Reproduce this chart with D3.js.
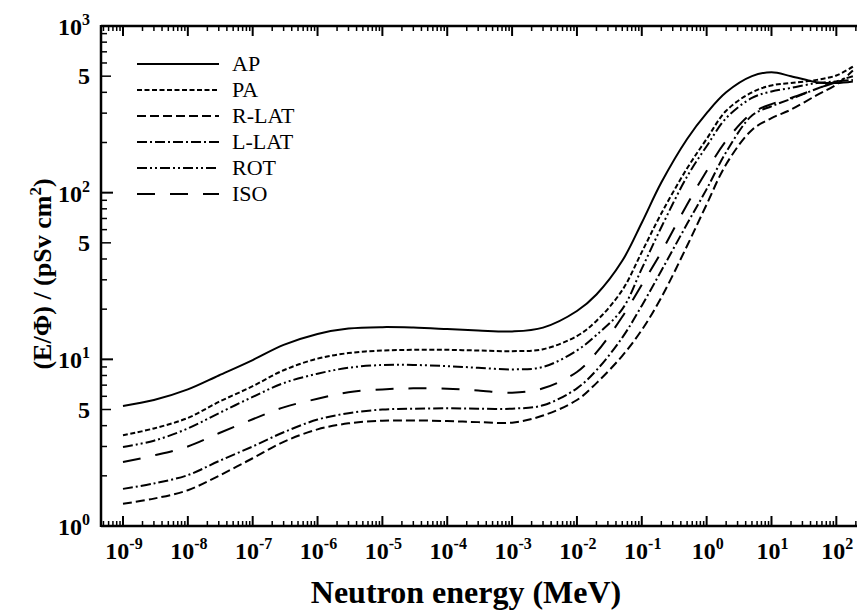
<!DOCTYPE html>
<html>
<head>
<meta charset="utf-8">
<script src="https://cdn.jsdelivr.net/npm/d3@7"></script>
<style>
  body { margin: 0; background: #fff; }
  svg { display: block; }
  text { font-family: "Liberation Serif", "Times New Roman", "DejaVu Serif", serif; }
</style>
</head>
<body>
<svg id="chart" width="857" height="610"></svg>
<script>
// neutron energy grid (MeV)
const energies = [1e-9, 3e-9, 1e-8, 3e-8, 1e-7, 3e-7, 1e-6, 3e-6, 1e-5, 3e-5, 1e-4, 3e-4,
  1e-3, 3e-3, 1e-2, 2e-2, 5e-2, 0.1, 0.2, 0.5, 1, 2, 5, 10, 20, 50, 100, 180];

// E/Phi, pSv cm2
const apValues   = [5.25, 5.7, 6.6, 8.0, 9.9, 12.2, 14.2, 15.3, 15.6, 15.5, 15.2, 14.9,
  14.7, 15.5, 19.5, 24.5, 39, 66, 115, 210, 300, 400, 500, 528, 500, 460, 455, 465];
const paValues   = [3.5, 3.85, 4.45, 5.55, 6.9, 8.6, 10.1, 10.9, 11.3, 11.4, 11.4, 11.3,
  11.2, 11.5, 13.8, 17, 26, 44, 75, 140, 210, 310, 400, 440, 455, 475, 505, 570];
const rlatValues = [1.36, 1.46, 1.64, 2.0, 2.55, 3.2, 3.8, 4.13, 4.28, 4.3, 4.26, 4.2,
  4.17, 4.6, 5.7, 7.2, 10.5, 15, 23.5, 48, 85, 148, 238, 280, 315, 385, 445, 540];
const llatValues = [1.67, 1.8, 2.02, 2.45, 3.0, 3.65, 4.35, 4.75, 5.0, 5.05, 5.08, 5.06,
  5.06, 5.3, 6.7, 8.6, 13.5, 21, 34, 65, 105, 175, 290, 330, 365, 420, 465, 500];
const rotValues  = [2.98, 3.25, 3.85, 4.75, 5.95, 7.2, 8.2, 8.9, 9.25, 9.25, 9.1, 8.9,
  8.7, 9.0, 11.3, 14, 20, 35, 62, 125, 190, 280, 370, 405, 425, 455, 465, 475];
const isoValues  = [2.42, 2.65, 3.0, 3.6, 4.37, 5.15, 5.8, 6.35, 6.6, 6.7, 6.66, 6.5,
  6.3, 6.7, 8.4, 11, 18, 28, 44, 85, 135, 205, 300, 340, 370, 420, 460, 480];

const seriesNames = ["AP", "PA", "R-LAT", "L-LAT", "ROT", "ISO"];
const seriesValues = [apValues, paValues, rlatValues, llatValues, rotValues, isoValues];

const xTickExps = [-9, -8, -7, -6, -5, -4, -3, -2, -1, 0, 1, 2];
const yTickExps = [0, 1, 2, 3];

const dashes = {
  "AP": null,
  "PA": "5,2.5",
  "R-LAT": "9,4",
  "L-LAT": "10,3,2,3",
  "ROT": "10,3,2,3,2,3",
  "ISO": "18,15"
};

const svg = d3.select("#chart");
const plotLeft = 101, plotTop = 26, plotBottom = 526;

const x = d3.scaleLog()
  .domain([Math.pow(10, -9.339), Math.pow(10, 2.36)])
  .range([plotLeft, plotLeft + 64.85 * (2.36 + 9.339)]);
const y = d3.scaleLog().domain([1, 1000]).range([plotBottom, plotTop]);

const xr = x.range()[1];

// minor ticks
const xMinor = [];
for (let e = -10; e <= 2; e++) {
  for (let k = 2; k <= 9; k++) {
    const v = k * Math.pow(10, e);
    if (v >= x.domain()[0] && v <= x.domain()[1]) xMinor.push(v);
  }
}
const yMinor = [];
for (let e = 0; e < 3; e++) {
  for (let k = 2; k <= 9; k++) yMinor.push({v: k * Math.pow(10, e), k: k});
}
const xMajor = xTickExps.map(e => Math.pow(10, e));
const yMajor = yTickExps.map(e => Math.pow(10, e));

const axes = svg.append("g").attr("stroke", "#000");

// bottom and top ticks (pointing inward)
[plotBottom, plotTop].forEach(function(y0) {
  const dir = y0 === plotBottom ? -1 : 1;
  axes.selectAll(null).data(xMinor).enter().append("line")
    .attr("x1", d => x(d)).attr("x2", d => x(d))
    .attr("y1", y0).attr("y2", y0 + dir * 5)
    .attr("stroke-width", 1.5);
  axes.selectAll(null).data(xMajor).enter().append("line")
    .attr("x1", d => x(d)).attr("x2", d => x(d))
    .attr("y1", y0).attr("y2", y0 + dir * 10)
    .attr("stroke-width", 2);
});

// left ticks
axes.selectAll(null).data(yMinor).enter().append("line")
  .attr("x1", plotLeft).attr("x2", d => plotLeft + (d.k === 5 ? 10 : 6))
  .attr("y1", d => y(d.v)).attr("y2", d => y(d.v))
  .attr("stroke-width", 1.5);
axes.selectAll(null).data(yMajor).enter().append("line")
  .attr("x1", plotLeft).attr("x2", plotLeft + 12)
  .attr("y1", d => y(d)).attr("y2", d => y(d))
  .attr("stroke-width", 2);

// frame lines
axes.append("line").attr("x1", plotLeft).attr("x2", xr).attr("y1", plotBottom).attr("y2", plotBottom).attr("stroke-width", 2.5);
axes.append("line").attr("x1", plotLeft).attr("x2", xr).attr("y1", plotTop).attr("y2", plotTop).attr("stroke-width", 2.5);
axes.append("line").attr("x1", plotLeft).attr("x2", plotLeft).attr("y1", plotTop - 1).attr("y2", plotBottom + 1).attr("stroke-width", 2.5);

// x tick labels
const xl = svg.append("g").attr("font-weight", "bold").attr("font-size", 24).attr("text-anchor", "middle");
xTickExps.forEach(function(e) {
  const t = xl.append("text").attr("x", x(Math.pow(10, e)) + 1).attr("y", 559);
  t.append("tspan").text("10");
  t.append("tspan").attr("font-size", 16).attr("dy", -10).text(e < 0 ? "-" + (-e) : String(e));
});

// y tick labels
const yl = svg.append("g").attr("font-weight", "bold").attr("font-size", 24).attr("text-anchor", "end");
yTickExps.forEach(function(e) {
  const t = yl.append("text").attr("x", 90).attr("y", y(Math.pow(10, e)) + 9);
  t.append("tspan").text("10");
  t.append("tspan").attr("font-size", 16).attr("dy", -10).text(String(e));
});
[5, 50, 500].forEach(function(v) {
  yl.append("text").attr("x", 90).attr("y", y(v) + 8).text("5");
});

// axis titles
svg.append("text")
  .attr("x", 466).attr("y", 603)
  .attr("text-anchor", "middle").attr("font-weight", "bold").attr("font-size", 32)
  .text("Neutron energy (MeV)");

const yt = svg.append("text")
  .attr("transform", "translate(51,274) rotate(-90)")
  .attr("text-anchor", "middle").attr("font-weight", "bold").attr("font-size", 26);
yt.append("tspan").text("(E/\u03A6) / (pSv cm");
yt.append("tspan").attr("font-size", 17).attr("dy", -10).text("2");
yt.append("tspan").attr("dy", 10).text(")");

// curves
const line = d3.line()
  .x(d => x(d[0]))
  .y(d => y(d[1]))
  .curve(d3.curveCatmullRom.alpha(0.5));

const curves = svg.append("g").attr("fill", "none").attr("stroke", "#000").attr("stroke-width", 2);
seriesNames.forEach(function(name, i) {
  const pts = energies.map((e, j) => [e, seriesValues[i][j]]);
  curves.append("path")
    .attr("d", line(pts))
    .attr("stroke-dasharray", dashes[name]);
});

// legend
const legend = svg.append("g");
seriesNames.forEach(function(name, i) {
  const ly = 64 + i * 26;
  legend.append("line")
    .attr("x1", 137).attr("x2", 219)
    .attr("y1", ly).attr("y2", ly)
    .attr("stroke", "#000").attr("stroke-width", 2)
    .attr("stroke-dasharray", dashes[name]);
  legend.append("text")
    .attr("x", 232).attr("y", ly + 7)
    .attr("font-size", 22)
    .text(name);
});
</script>
</body>
</html>
